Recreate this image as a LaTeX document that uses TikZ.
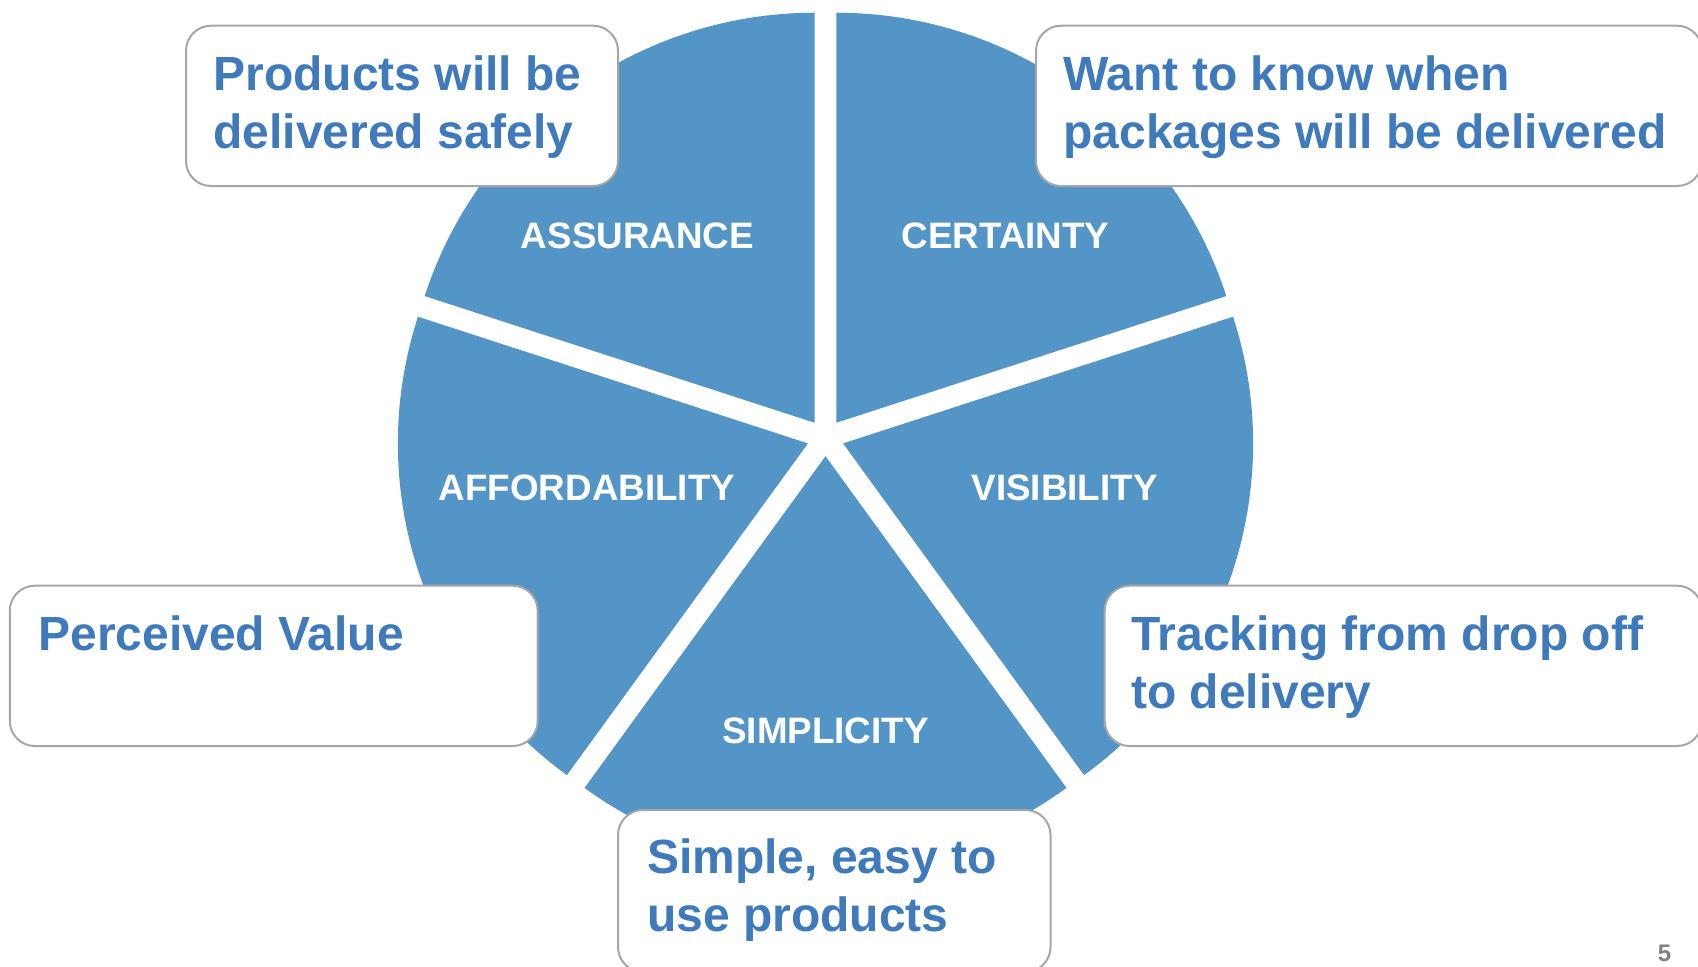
\documentclass[tikz,border=0pt]{standalone}
\usepackage{fontspec}
\setmainfont{Liberation Sans}
\usetikzlibrary{calc}
\definecolor{pieblue}{RGB}{84,149,199}
\definecolor{textblue}{RGB}{62,122,188}
\definecolor{edgegray}{RGB}{166,166,166}
\definecolor{pagegray}{RGB}{128,128,128}

\begin{document}
\begin{tikzpicture}[x=0.5pt,y=0.5pt,
  slice/.style={fill=pieblue},
  callout/.style={draw=edgegray, line width=1pt, fill=white, rounded corners=12.5pt},
  callouttext/.style={anchor=base west, inner sep=0pt, align=left, text=textblue,
    font=\bfseries\fontsize{24}{29}\selectfont},
  slicelabel/.style={anchor=base, inner sep=0pt, text=white,
    font=\bfseries\fontsize{18.4}{22}\selectfont}]
\clip (0,-966) rectangle (1698,0);
\fill[white] (0,-966) rectangle (1698,0);

% exploded pie: five 72-degree slices pushed out along their bisectors
\coordinate (O) at (825.5,-437.7);
\foreach \mid/\nm in {126/assurance, 54/certainty, -18/visibility, -90/simplicity, 198/affordability} {
  \pgfmathsetmacro\sa{\mid-36}
  \pgfmathsetmacro\ea{\mid+36}
  \coordinate (\nm tip) at ($(O)+(\mid:18.5)$);
  \fill[slice] (\nm tip) -- ++(\sa:410) arc[start angle=\sa, end angle=\ea, radius=410] -- cycle;
}

% slice labels
\node[slicelabel] (assurance) at (637.5,-248.3) {ASSURANCE};
\node[slicelabel] (certainty) at (1005.5,-248.3) {CERTAINTY};
\node[slicelabel] (affordability) at (587,-500) {AFFORDABILITY};
\node[slicelabel] (visibility) at (1064.5,-500) {VISIBILITY};
\node[slicelabel] (simplicity) at (825.5,-743) {SIMPLICITY};

% callout boxes
\draw[callout] (186,-25.7) rectangle (618,-186);
\draw[callout] (1036,-25.7) rectangle (1702,-186);
\draw[callout] (9.8,-585.7) rectangle (537.7,-746);
\draw[callout] (1104.7,-585.7) rectangle (1702,-746);
\draw[callout] (618,-810) rectangle (1050.5,-972);

% callout texts (a multi-line node sits on the baseline of its last line)
\node[callouttext] (safely) at (213,-148) {Products will be\\delivered safely};
\node[callouttext] (when) at (1063,-148) {Want to know when\\packages will be delivered};
\node[callouttext] (value) at (38,-650) {Perceived Value};
\node[callouttext] (tracking) at (1130.8,-708.3) {Tracking from drop off\\to delivery};
\node[callouttext] (simple) at (646.7,-931.5) {Simple, easy to\\use products};

% page number
\node[anchor=base, inner sep=0pt, text=pagegray, font=\bfseries\fontsize{12}{14}\selectfont] (page) at (1664.5,-961) {5};
\end{tikzpicture}
\end{document}
